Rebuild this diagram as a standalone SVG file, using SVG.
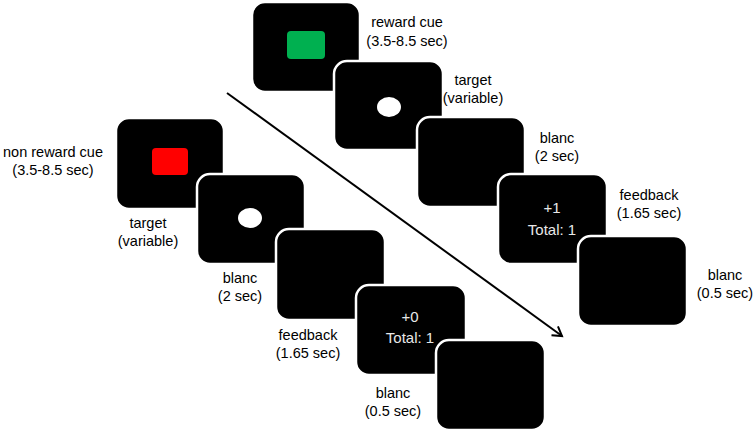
<svg xmlns="http://www.w3.org/2000/svg" width="755" height="434" viewBox="0 0 755 434">
<style>
.scr{fill:#000;stroke:#fff;stroke-width:2.5}
.lbl{font-family:"Liberation Sans",Arial,sans-serif;font-size:14.5px;fill:#000;text-anchor:middle}
.in{font-family:"Liberation Sans",Arial,sans-serif;font-size:15px;fill:#e8e8e8;text-anchor:middle}
.arr{stroke:#000;stroke-width:2;fill:none}
</style>
<defs>
<marker id="ah" markerWidth="14" markerHeight="14" refX="11" refY="7" orient="auto" markerUnits="userSpaceOnUse">
<path d="M2,1.5 L11,7 L2,12.5" fill="none" stroke="#000" stroke-width="2"/>
</marker>
</defs>
<rect width="755" height="434" fill="#fff"/>

<g id="connectors">
<line class="arr" x1="227" y1="93" x2="562" y2="336" marker-end="url(#ah)"/>
</g>

<!-- bottom sequence: non reward -->
<g id="nr-cue">
<rect class="scr" x="116" y="118" width="108" height="91" rx="13"/>
<rect x="152" y="148" width="36" height="27" rx="4" fill="#ff0000"/>
<text class="lbl" x="53" y="157">non reward cue</text>
<text class="lbl" x="53" y="175">(3.5-8.5 sec)</text>
</g>
<g id="nr-target">
<rect class="scr" x="197" y="174" width="108" height="90" rx="13"/>
<ellipse cx="250" cy="218" rx="12" ry="10" fill="#fff"/>
<text class="lbl" x="148" y="228">target</text>
<text class="lbl" x="148" y="246">(variable)</text>
</g>
<g id="nr-blanc1">
<rect class="scr" x="276" y="229" width="109" height="91" rx="13"/>
<text class="lbl" x="240" y="283">blanc</text>
<text class="lbl" x="240" y="301">(2 sec)</text>
</g>
<g id="nr-feedback">
<rect class="scr" x="356" y="285" width="110" height="90" rx="13"/>
<text class="in" x="410" y="322">+0</text>
<text class="in" x="410" y="343">Total: 1</text>
<text class="lbl" x="308" y="340">feedback</text>
<text class="lbl" x="308" y="358">(1.65 sec)</text>
</g>
<g id="nr-blanc2">
<rect class="scr" x="436" y="340" width="109" height="90" rx="13"/>
<text class="lbl" x="393" y="398">blanc</text>
<text class="lbl" x="393" y="416">(0.5 sec)</text>
</g>

<!-- top sequence: reward -->
<g id="r-cue">
<rect class="scr" x="252" y="2" width="108" height="90" rx="13"/>
<rect x="287" y="31" width="38" height="28" rx="4" fill="#00b050"/>
<text class="lbl" x="407" y="27">reward cue</text>
<text class="lbl" x="407" y="46">(3.5-8.5 sec)</text>
</g>
<g id="r-target">
<rect class="scr" x="334" y="61" width="109" height="89" rx="13"/>
<ellipse cx="389" cy="107" rx="12" ry="10" fill="#fff"/>
<text class="lbl" x="473" y="85">target</text>
<text class="lbl" x="473" y="103">(variable)</text>
</g>
<g id="r-blanc1">
<rect class="scr" x="417" y="117" width="108" height="90" rx="13"/>
<text class="lbl" x="557" y="143">blanc</text>
<text class="lbl" x="557" y="161">(2 sec)</text>
</g>
<g id="r-feedback">
<rect class="scr" x="498" y="174" width="109" height="90" rx="13"/>
<text class="in" x="552" y="213">+1</text>
<text class="in" x="552" y="235">Total: 1</text>
<text class="lbl" x="649" y="200">feedback</text>
<text class="lbl" x="649" y="218">(1.65 sec)</text>
</g>
<g id="r-blanc2">
<rect class="scr" x="578" y="236" width="109" height="90" rx="13"/>
<text class="lbl" x="725" y="280">blanc</text>
<text class="lbl" x="725" y="298">(0.5 sec)</text>
</g>
</svg>
